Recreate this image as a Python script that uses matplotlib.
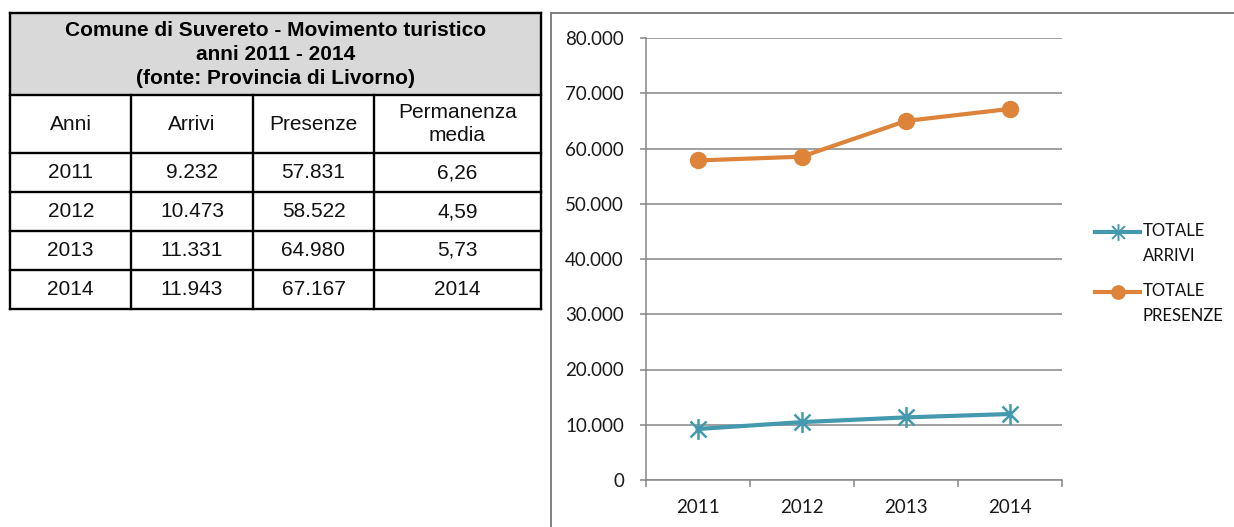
import matplotlib
matplotlib.use('Agg')
import matplotlib.pyplot as plt
from matplotlib.lines import Line2D
from matplotlib.patches import Rectangle
from matplotlib.path import Path
from matplotlib.ticker import FuncFormatter, FixedLocator

# dati
anni = ['2011', '2012', '2013', '2014']
arrivi = [9232, 10473, 11331, 11943]
presenze = [57831, 58522, 64980, 67167]
permanenza = ['6,26', '4,59', '5,73', '2014']
titolo_tabella = 'Comune di Suvereto - Movimento turistico\nanni 2011 - 2014\n(fonte: Provincia di Livorno)'
intestazioni = ['Anni', 'Arrivi', 'Presenze', 'Permanenza\nmedia']
etichette_legenda = ['TOTALE\nARRIVI', 'TOTALE\nPRESENZE']

W, H = 1234, 527
BLU = '#4499AE'
ARANCIO = '#DD843A'
GRIGIO = '#868686'


def fx(x):
    return x / W


def fy(y):
    return 1 - y / H


def migliaia(v, pos=None):
    return f'{int(round(v)):,}'.replace(',', '.')


fig = plt.figure(figsize=(W / 100, H / 100), dpi=100)

# ---- tabella a sinistra ----
tab_font = 'Liberation Sans'
col_x = [10.5, 131, 253, 374, 541]
row_y = [12.5, 95, 153, 192, 231, 270, 309]

fig.add_artist(Rectangle((fx(col_x[0]), fy(row_y[1])), fx(col_x[-1]) - fx(col_x[0]),
                         fy(row_y[0]) - fy(row_y[1]), transform=fig.transFigure,
                         facecolor='#D9D9D9', edgecolor='none'))
for y in row_y:
    fig.add_artist(Line2D([fx(col_x[0]), fx(col_x[-1])], [fy(y), fy(y)],
                          transform=fig.transFigure, color='black', lw=1.7))
for i, x in enumerate(col_x):
    top = row_y[0] if i in (0, len(col_x) - 1) else row_y[1]
    fig.add_artist(Line2D([fx(x), fx(x)], [fy(top), fy(row_y[-1])],
                          transform=fig.transFigure, color='black', lw=1.7))

fig.text(fx((col_x[0] + col_x[-1]) / 2), fy((row_y[0] + row_y[1]) / 2 + 1), titolo_tabella,
         ha='center', va='center', fontsize=15, fontweight='bold', family=tab_font,
         linespacing=1.35)

righe = [intestazioni] + [[anni[i], migliaia(arrivi[i]), migliaia(presenze[i]), permanenza[i]]
                          for i in range(len(anni))]
for r, riga in enumerate(righe):
    yc = (row_y[r + 1] + row_y[r + 2]) / 2
    for c, testo in enumerate(riga):
        xc = (col_x[c] + col_x[c + 1]) / 2
        fig.text(fx(xc), fy(yc), testo, ha='center', va='center', fontsize=15,
                 family=tab_font, linespacing=1.32, color='#111111')

# ---- cornice del grafico ----
fig.add_artist(Line2D([fx(551), fx(551)], [fy(13), 0], transform=fig.transFigure,
                      color='#7F7F7F', lw=1.4))
fig.add_artist(Line2D([fx(551), 1], [fy(13), fy(13)], transform=fig.transFigure,
                      color='#7F7F7F', lw=1.4))

# ---- grafico ----
ax = fig.add_axes([fx(645.5), fy(480), fx(1062) - fx(645.5), fy(38) - fy(480)])
xs = list(range(len(anni)))

stella = Path([(-1, -1), (1, 1), (-1, 1), (1, -1), (0, -1.3), (0, 1.3)],
              [Path.MOVETO, Path.LINETO, Path.MOVETO, Path.LINETO, Path.MOVETO, Path.LINETO])

ax.plot(xs, arrivi, color=BLU, lw=3, marker=stella, markersize=15, markeredgewidth=1.8,
        markeredgecolor=BLU, label=etichette_legenda[0], zorder=3)
ax.plot(xs, presenze, color=ARANCIO, lw=3, marker='o', markersize=11.5,
        markerfacecolor=ARANCIO, markeredgecolor=ARANCIO, label=etichette_legenda[1], zorder=3)

ax.set_xlim(-0.5, len(anni) - 0.5)
ax.set_ylim(0, 80000)
ax.set_yticks(range(0, 80001, 10000))
ax.yaxis.set_major_formatter(FuncFormatter(migliaia))
ax.set_xticks(xs)
ax.set_xticklabels(anni)
ax.xaxis.set_minor_locator(FixedLocator([i - 0.5 for i in range(len(anni) + 1)]))

ax.grid(axis='y', color=GRIGIO, lw=1.1)
ax.set_axisbelow(True)
for s in ('top', 'right'):
    ax.spines[s].set_visible(False)
for s in ('left', 'bottom'):
    ax.spines[s].set_color(GRIGIO)
    ax.spines[s].set_linewidth(1.1)

ax.tick_params(axis='y', length=4.5, width=1.1, color=GRIGIO, pad=11, labelsize=13.5,
               labelcolor='#1a1a1a')
ax.tick_params(axis='x', which='major', length=0, pad=14, labelsize=13.5, labelcolor='#1a1a1a')
ax.tick_params(axis='x', which='minor', length=5, width=1.1, color=GRIGIO)
for lab in ax.get_xticklabels() + ax.get_yticklabels():
    lab.set_family('Lato')

# ---- legenda ----
leg_y = [232, 292]
linee = ax.get_lines()
for i, ln in enumerate(linee):
    y = leg_y[i]
    fig.add_artist(Line2D([fx(1095), fx(1140)], [fy(y), fy(y)], transform=fig.transFigure,
                          color=ln.get_color(), lw=3))
    fig.add_artist(Line2D([fx(1117.5)], [fy(y)], transform=fig.transFigure,
                          marker=ln.get_marker(), markersize=ln.get_markersize() * 0.8,
                          markeredgewidth=1.4, color=ln.get_color(), linestyle='none'))
    fig.text(fx(1143), fy(y - 9), ln.get_label(), ha='left', va='top', fontsize=12,
             family='Lato', color='#111111', linespacing=1.7)

fig.savefig('out.png', dpi=100)
